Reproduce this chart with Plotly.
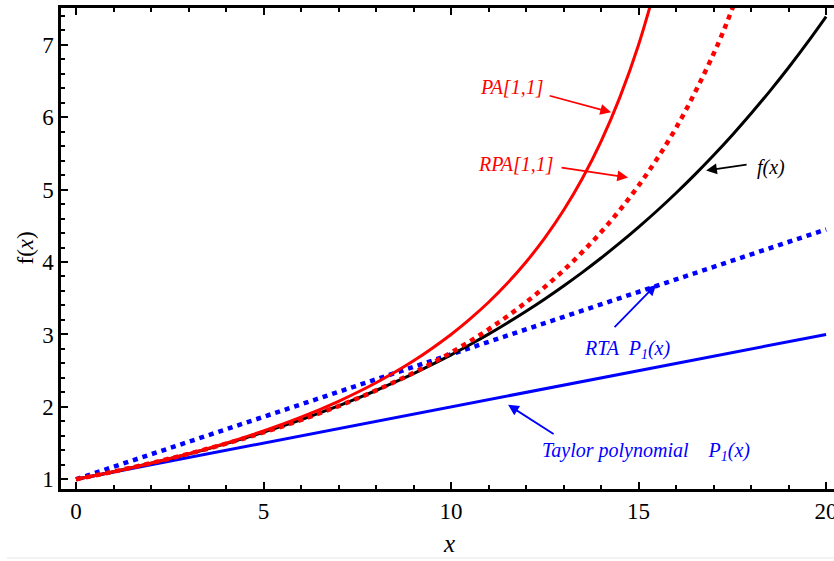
import plotly.graph_objects as go

# x samples
x_f = [0, 0.5, 1, 1.5, 2, 2.5, 3, 3.5, 4, 4.5, 5, 5.5, 6, 6.5, 7, 7.5, 8, 8.5, 9, 9.5,
       10, 10.5, 11, 11.5, 12, 12.5, 13, 13.5, 14, 14.5, 15, 15.5, 16, 16.5, 17, 17.5,
       18, 18.5, 19, 19.5, 20]
y_f = [1.000, 1.051, 1.105, 1.162, 1.221, 1.284, 1.350, 1.419, 1.492, 1.568, 1.649,
       1.733, 1.822, 1.916, 2.014, 2.117, 2.226, 2.340, 2.460, 2.586, 2.718, 2.858,
       3.004, 3.158, 3.320, 3.490, 3.669, 3.857, 4.055, 4.263, 4.482, 4.711, 4.953,
       5.207, 5.474, 5.755, 6.050, 6.360, 6.686, 7.029, 7.389]

x_pa = [0, 1, 2, 3, 4, 5, 6, 7, 8, 9, 10, 10.5, 11, 11.5, 12, 12.5, 13, 13.5, 14, 14.5, 15, 15.5]
y_pa = [1.000, 1.105, 1.222, 1.353, 1.500, 1.667, 1.857, 2.077, 2.333, 2.636, 3.000,
        3.211, 3.444, 3.706, 4.000, 4.333, 4.714, 5.154, 5.667, 6.273, 7.000, 7.889]

x_rpa = [0, 1, 2, 3, 4, 5, 6, 7, 8, 9, 10, 11, 12, 13, 14, 15, 16, 17, 17.5, 18]
y_rpa = [1.000, 1.107, 1.224, 1.352, 1.492, 1.647, 1.819, 2.011, 2.227, 2.471, 2.750,
         3.071, 3.445, 3.886, 4.413, 5.055, 5.853, 6.875, 7.500, 8.226]

x_lin = [0, 20]
y_taylor = [1.0, 3.0]
y_rta = [1.0, 4.45]

x_ticks = [0, 5, 10, 15, 20]
y_ticks = [1, 2, 3, 4, 5, 6, 7]

SERIF = "Liberation Serif, Times New Roman, serif"

fig = go.Figure()
fig.add_trace(go.Scatter(x=x_lin, y=y_taylor, mode="lines",
                         line=dict(color="#0000ff", width=3), showlegend=False))
fig.add_trace(go.Scatter(x=x_lin, y=y_rta, mode="lines",
                         line=dict(color="#0000ff", width=4.5, dash="5px,5px"), showlegend=False))
fig.add_trace(go.Scatter(x=x_f, y=y_f, mode="lines", line_shape="spline",
                         line=dict(color="black", width=3), showlegend=False))
fig.add_trace(go.Scatter(x=x_rpa, y=y_rpa, mode="lines", line_shape="spline",
                         line=dict(color="#ff0000", width=4.5, dash="5px,5px"), showlegend=False))
fig.add_trace(go.Scatter(x=x_pa, y=y_pa, mode="lines", line_shape="spline",
                         line=dict(color="#ff0000", width=3), showlegend=False))

tickfont = dict(family=SERIF, size=23, color="black")

fig.update_xaxes(range=[-0.4, 20.21], showgrid=False, zeroline=False, automargin=False,
                 showline=True, linewidth=2.5, linecolor="black", mirror="ticks",
                 tickmode="array", tickvals=x_ticks, ticktext=[str(v) for v in x_ticks],
                 ticks="inside", ticklen=7, tickwidth=1.5, tickcolor="black",
                 ticklabeloverflow="allow",
                 minor=dict(tickvals=[i for i in range(0, 21) if i % 5], ticks="inside",
                            ticklen=4, tickwidth=1.5, tickcolor="black"),
                 tickfont=tickfont)
fig.update_yaxes(range=[0.866, 7.507], showgrid=False, zeroline=False, automargin=False,
                 showline=True, linewidth=2.5, linecolor="black", mirror=False,
                 tickmode="array", tickvals=y_ticks,
                 ticks="inside", ticklen=7, tickwidth=1.5, tickcolor="black",
                 minor=dict(tickvals=[round(1 + 0.2 * i, 1) for i in range(0, 33) if i % 5],
                            ticks="inside", ticklen=4, tickwidth=1.5, tickcolor="black"),
                 tickfont=tickfont)

annots = []
annots.append(dict(text="<i>x</i>", xref="x", x=9.95, yref="paper", y=0, yshift=-54,
                   showarrow=False, font=dict(family=SERIF, size=25, color="black"),
                   xanchor="center", yanchor="middle"))
annots.append(dict(text="f(<i>x</i>)", xref="paper", x=0, xshift=-36, yref="paper", y=0.5,
                   textangle=-90, showarrow=False, font=dict(family=SERIF, size=23, color="black"),
                   xanchor="center", yanchor="middle"))

def label(text, px, py, color):
    annots.append(dict(text=text, xref="x", x=(px - 76) / 37.5, yref="y", y=1 + (479.3 - py) / 72.3,
                       showarrow=False, font=dict(family=SERIF, size=20, color=color),
                       xanchor="center", yanchor="middle"))

def arrow(hx, hy, tx, ty, color):
    annots.append(dict(text="", xref="x", x=(hx - 76) / 37.5, yref="y", y=1 + (479.3 - hy) / 72.3,
                       ax=tx - hx, ay=ty - hy, showarrow=True, arrowhead=2, arrowsize=1.2,
                       arrowwidth=1.8, arrowcolor=color))

label("<i>PA[1,1]</i>", 511, 88, "#ff0000")
arrow(611, 113, 548, 96, "#ff0000")
label("<i>RPA[1,1]</i>", 516, 165, "#ff0000")
arrow(628, 178, 560, 168, "#ff0000")
label("<i>f(x)</i>", 771, 168, "black")
arrow(706, 171, 748, 165, "black")
label("<i>RTA  P<sub>1</sub>(x)</i>", 627, 350, "#0000ff")
arrow(656, 285, 613, 329, "#0000ff")
label("<i>Taylor polynomial    P<sub>1</sub>(x)</i>", 646, 452, "#0000ff")
arrow(508, 405, 555, 435, "#0000ff")

fig.update_layout(
    width=834, height=561,
    margin=dict(l=61, r=0, t=8, b=72, autoexpand=False),
    paper_bgcolor="white", plot_bgcolor="white",
    annotations=annots,
    shapes=[dict(type="line", xref="paper", yref="paper", x0=-0.07, x1=1.0,
                 y0=-0.1435, y1=-0.1435, line=dict(color="#e6e6e6", width=1))],
)

fig.write_html("out.html")
